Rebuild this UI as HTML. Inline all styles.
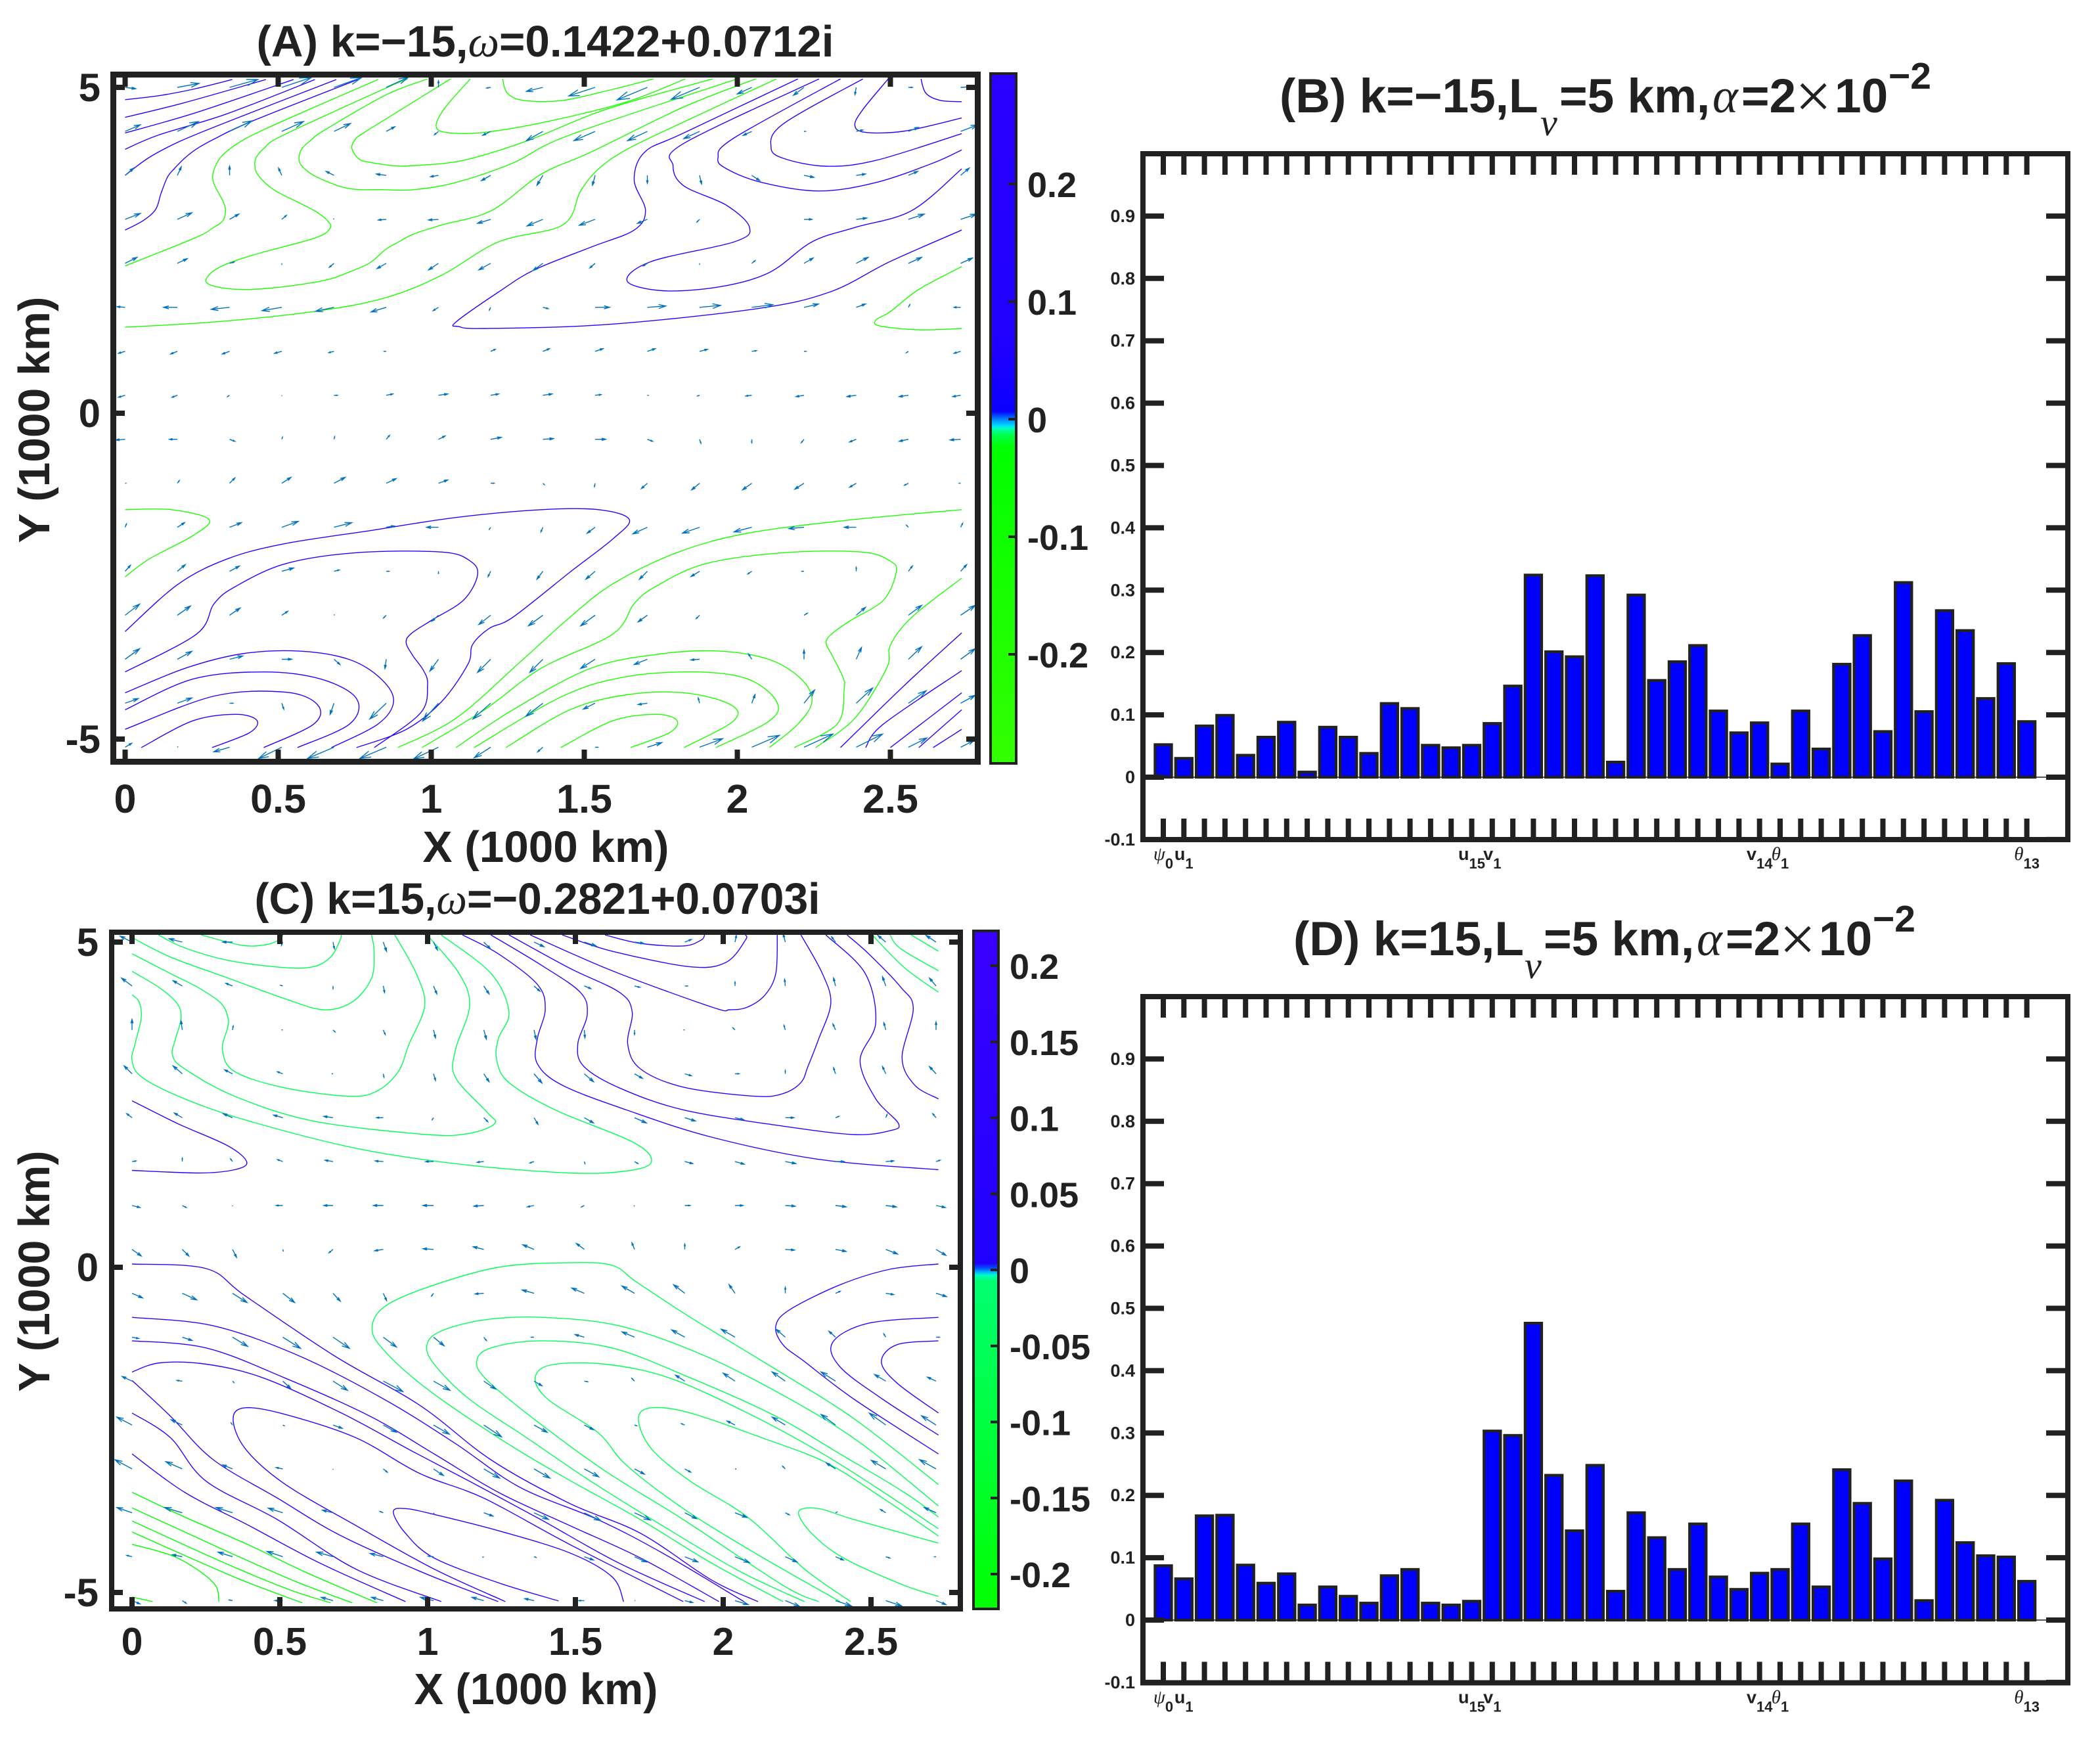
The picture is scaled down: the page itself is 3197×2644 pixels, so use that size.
<!DOCTYPE html>
<html lang="en">
<head>
<meta charset="utf-8">
<title>Contour and spectrum panels</title>
<style>
html,body{margin:0;padding:0;background:#fff}
svg{display:block}
text{font-family:"Liberation Sans",sans-serif;font-weight:700;fill:#212121}
.greek{font-family:"Liberation Serif",serif;font-style:italic;font-weight:400}
.serif{font-family:"Liberation Serif",serif;font-weight:400}
</style>
</head>
<body>
<svg id="fig" xmlns="http://www.w3.org/2000/svg" width="3197" height="2644" viewBox="0 0 3197 2644">
<defs>
<clipPath id="clipA"><rect x="177" y="118" width="1307" height="1037"/></clipPath>
<clipPath id="clipC"><rect x="174" y="1423" width="1284" height="1022"/></clipPath>
<linearGradient id="cbarA" gradientUnits="userSpaceOnUse" x1="0" y1="112" x2="0" y2="1162">
<stop offset="0" stop-color="#2a00ff"/><stop offset="0.4" stop-color="#1f00ff"/><stop offset="0.49" stop-color="#0a00ff"/><stop offset="0.4965" stop-color="#0050ff"/><stop offset="0.504" stop-color="#00a0ff"/><stop offset="0.511" stop-color="#00e0ff"/><stop offset="0.514" stop-color="#00ffc0"/><stop offset="0.523" stop-color="#00ff50"/><stop offset="0.542" stop-color="#00ff00"/><stop offset="1" stop-color="#33ff00"/>
</linearGradient>
<linearGradient id="cbarC" gradientUnits="userSpaceOnUse" x1="0" y1="1417" x2="0" y2="2449">
<stop offset="0" stop-color="#3a00ff"/><stop offset="0.49" stop-color="#1f00ff"/><stop offset="0.4975" stop-color="#0050ff"/><stop offset="0.503" stop-color="#00b0ff"/><stop offset="0.508" stop-color="#00ffc0"/><stop offset="0.516" stop-color="#00ff70"/><stop offset="0.65" stop-color="#00ff50"/><stop offset="1" stop-color="#00ff00"/>
</linearGradient>
</defs>

<rect x="0" y="0" width="3197" height="2644" fill="#fff"/>

<text x="830" y="86" font-size="67" text-anchor="middle" textLength="879" lengthAdjust="spacingAndGlyphs">(A) k=−15,<tspan class="greek">ω</tspan>=0.1422+0.0712i</text>
<text x="818" y="1391" font-size="67" text-anchor="middle" textLength="861" lengthAdjust="spacingAndGlyphs">(C) k=15,<tspan class="greek">ω</tspan>=−0.2821+0.0703i</text>

<g>
<text y="171" font-size="73"><tspan x="1948">(B) k=−15,L</tspan><tspan class="greek" x="2345" y="206" font-size="58">ν</tspan><tspan x="2374" y="171">=5 km,</tspan><tspan class="greek" x="2607" y="171" font-size="74">α</tspan><tspan x="2651" y="171">=2</tspan><tspan class="serif" x="2733" y="179" font-size="98">×</tspan><tspan x="2793" y="171">10</tspan><tspan x="2875" y="135" font-size="57">−2</tspan></text>
</g>
<g>
<text y="1454" font-size="73"><tspan x="1969">(D) k=15,L</tspan><tspan class="greek" x="2321" y="1489" font-size="58">ν</tspan><tspan x="2350" y="1454">=5 km,</tspan><tspan class="greek" x="2583" y="1454" font-size="74">α</tspan><tspan x="2627" y="1454">=2</tspan><tspan class="serif" x="2709" y="1462" font-size="98">×</tspan><tspan x="2769" y="1454">10</tspan><tspan x="2851" y="1418" font-size="57">−2</tspan></text>
</g>

<text x="831" y="1312" font-size="67" text-anchor="middle" textLength="375" lengthAdjust="spacingAndGlyphs">X (1000 km)</text>
<text x="816" y="2594" font-size="67" text-anchor="middle" textLength="371" lengthAdjust="spacingAndGlyphs">X (1000 km)</text>
<text transform="translate(75 639) rotate(-90)" font-size="67" text-anchor="middle" textLength="375" lengthAdjust="spacingAndGlyphs">Y (1000 km)</text>
<text transform="translate(75 1935) rotate(-90)" font-size="67" text-anchor="middle" textLength="367" lengthAdjust="spacingAndGlyphs">Y (1000 km)</text>

<g id="fieldA" clip-path="url(#clipA)"></g>
<g id="fieldC" clip-path="url(#clipC)"></g>
<g id="barsBg"></g>
<g id="barsDg"></g>

<rect x="172.5" y="113.5" width="1316" height="1046" fill="none" stroke="#212121" stroke-width="9"/>
<rect x="170" y="1419" width="1292" height="1030" fill="none" stroke="#212121" stroke-width="8"/>
<rect x="1740" y="234" width="1408" height="1044" fill="none" stroke="#212121" stroke-width="8"/>
<rect x="1740" y="1517" width="1408" height="1044.5" fill="none" stroke="#212121" stroke-width="8"/>

<rect x="1508" y="112" width="39" height="1050" fill="url(#cbarA)" stroke="#212121" stroke-width="4"/>
<rect x="1482" y="1417" width="38" height="1032" fill="url(#cbarC)" stroke="#212121" stroke-width="4"/>

<g id="overlay"></g>
</svg>

<script>
/* ---------- Panel A: contour lines as [x,y,x,y,...] in data units ---------- */
const contourABlue = [
[0,4.81,.12,4.88,.23,4.98,.35,5.12],
[0,4.54,.19,4.76,.46,5.12],
[0,4.30,.23,4.61,.55,5.12],
[0,4.05,.11,4.27,.33,4.59,.62,5.12],
[0,3.65,.077,3.92,.178,4.17,.328,4.46,.69,5.12],
[0,2.81,.06,2.96,.10,3.13,.117,3.37,.138,3.62,.16,3.75,.196,3.92,.235,4.06,.292,4.21,.414,4.48,.76,5.12],
[2.198,5.13,1.825,4.30,1.698,4.01,1.663,3.58,1.70,3.11,1.663,2.81,1.523,2.55,1.337,2.20,1.22,1.86,1.081,1.40,1.09,1.33,1.174,1.30,1.57,1.36,2.058,1.60,2.302,1.86,2.5,2.33,2.733,2.81],
[2.267,5.13,1.825,4.14,1.79,3.80,1.825,3.49,1.965,3.19,2.04,2.85,1.99,2.63,1.72,2.33,1.64,2.03,1.756,1.88,1.942,1.94,2.105,2.16,2.244,2.63,2.384,2.85,2.57,3.11,2.733,3.75],
[2.337,5.13,1.988,4.22,1.937,3.92,1.965,3.75,2.081,3.54,2.267,3.41,2.453,3.54,2.64,3.84,2.733,4.04],
[2.41,5.13,2.15,4.44,2.11,4.08,2.151,3.91,2.29,3.79,2.453,3.88,2.733,4.29],
[2.493,5.13,2.41,4.66,2.384,4.42,2.418,4.31,2.547,4.33,2.733,4.53],
[2.6,5.13,2.616,4.91,2.663,4.80,2.733,4.78],
[0,-3.35,.174,-2.62,.337,-2.23,.523,-2.0,.802,-1.8,1.081,-1.6,1.36,-1.48,1.547,-1.48,1.647,-1.63,1.593,-1.93,1.453,-2.44,1.267,-3.13,1.19,-3.3,1.135,-3.55,1.12,-3.85,1.035,-4.42,.919,-4.85,.756,-5.13],
[0,-3.97,.233,-3.39,.291,-2.92,.36,-2.66,.523,-2.31,.756,-2.14,1.035,-2.13,1.128,-2.27,1.151,-2.49,1.105,-2.87,1.0,-3.18,.935,-3.38,.918,-3.52,.94,-3.72,.975,-3.95,.988,-4.17,.965,-4.6,.814,-5.13],
[0,-4.29,.198,-3.91,.384,-3.69,.57,-3.65,.733,-3.78,.837,-4.08,.877,-4.42,.826,-4.77,.674,-5.13],
[0,-4.55,.221,-4.08,.453,-3.97,.64,-4.08,.756,-4.38,.733,-4.77,.563,-5.13],
[0,-4.85,.291,-4.34,.523,-4.28,.628,-4.47,.616,-4.77,.453,-5.13],
[.053,-5.13,.221,-4.72,.36,-4.62,.43,-4.71,.407,-4.9,.284,-5.13],
[2.733,-3.37,2.547,-4.17,2.337,-5.13],
[2.733,-3.95,2.477,-4.77,2.419,-5.13],
[2.733,-4.29,2.5,-5.13],
[2.733,-4.55,2.593,-5.13],
[2.733,-4.85,2.64,-5.13]
];
const contourAGreen = [
[0,2.26,.228,2.69,.289,2.85,.32,2.96,.328,3.11,.32,3.25,.292,3.50,.286,3.65,.296,3.80,.314,3.94,.346,4.07,.392,4.21,.457,4.36,.586,4.63,.826,5.12],
[.923,5.13,.857,5.0,.518,4.27,.453,4.06,.428,3.92,.424,3.79,.435,3.65,.485,3.43,.568,3.23,.621,3.10,.66,2.96,.67,2.84,.621,2.69,.442,2.46,.342,2.31,.285,2.17,.264,2.02,.299,1.94,.371,1.90,.478,1.92,.643,2.03,.729,2.16,.80,2.31,.85,2.51,.886,2.61,.943,2.75,1.035,2.89,1.197,3.11,1.36,3.67,1.523,4.01,1.825,4.70,2.06,5.13],
[.988,5.13,.85,4.88,.65,4.34,.607,4.19,.578,4.06,.568,3.92,.578,3.79,.628,3.62,.729,3.45,.843,3.43,.943,3.43,1.08,3.54,1.267,3.84,1.453,4.27,2.0,5.13],
[1.063,5.13,.943,4.78,.782,4.31,.75,4.19,.741,4.06,.764,3.90,.80,3.85,.872,3.80,.943,3.80,1.105,3.88,1.314,4.18,1.57,4.66,1.919,5.13],
[1.128,5.13,1.047,4.70,1.016,4.42,1.047,4.31,1.174,4.31,1.384,4.48,1.64,4.78,1.83,5.13],
[1.233,5.13,1.249,4.91,1.302,4.80,1.43,4.80,1.593,4.97,1.726,5.13],
[0,1.32,.29,1.40,.616,1.56,.849,1.77,1.035,2.12,1.22,2.63,1.43,2.89,1.488,3.41,1.547,3.75,1.64,4.05,1.825,4.47,2.128,5.13],
[2.733,2.25,2.593,1.90,2.5,1.56,2.453,1.43,2.465,1.34,2.593,1.28,2.733,1.30],
[0,-1.48,.151,-1.48,.274,-1.63,.221,-1.88,.081,-2.23,0,-2.51],
[2.733,-1.48,2.384,-1.63,2.035,-1.84,1.802,-2.14,1.593,-2.62,1.453,-3.13,1.29,-3.82,1.081,-4.68,.891,-5.13],
[.97,-5.13,1.174,-4.55,1.36,-3.91,1.593,-3.39,1.663,-2.92,1.733,-2.66,1.895,-2.31,2.151,-2.14,2.407,-2.13,2.5,-2.27,2.519,-2.44,2.477,-2.87,2.37,-3.18,2.31,-3.38,2.29,-3.52,2.31,-3.72,2.345,-4.05,2.349,-4.25,2.326,-4.77,2.186,-5.13],
[1.081,-5.13,1.267,-4.55,1.523,-3.91,1.756,-3.69,1.942,-3.65,2.105,-3.78,2.209,-4.08,2.244,-4.42,2.198,-4.77,2.105,-5.13],
[1.14,-5.13,1.43,-4.34,1.64,-4.04,1.872,-3.97,2.035,-4.08,2.128,-4.42,2.105,-4.72,1.93,-5.13],
[1.244,-5.13,1.453,-4.55,1.64,-4.32,1.826,-4.29,1.977,-4.47,1.988,-4.72,1.826,-5.13],
[1.423,-5.13,1.593,-4.72,1.733,-4.62,1.802,-4.71,1.779,-4.9,1.651,-5.13],
[2.733,-2.53,2.57,-3.13,2.5,-3.56,2.488,-3.91,2.384,-4.68,2.256,-5.13]
];

/* ---------- Panel C: contour lines ---------- */
const contourCBlue = [
[0,2.56,.154,2.21,.323,1.87,.388,1.62,.347,1.50,.227,1.45,0,1.49],
[1.118,5.11,1.239,4.82,1.371,4.35,1.398,3.97,1.371,3.51,1.371,3.13,1.455,2.80,1.672,2.42,1.961,2.0,2.323,1.66,2.728,1.50],
[1.214,5.11,1.383,4.65,1.516,4.23,1.54,3.89,1.508,3.43,1.528,3.09,1.648,2.76,1.865,2.42,2.202,2.17,2.443,2.04,2.564,2.10,2.593,2.21,2.516,2.59,2.463,3.18,2.516,3.76,2.48,4.52,2.347,5.11],
[1.275,5.11,1.48,4.60,1.648,4.23,1.692,3.93,1.677,3.43,1.72,3.05,1.865,2.77,2.106,2.63,2.202,2.67,2.263,2.84,2.287,3.09,2.323,3.51,2.364,4.06,2.335,4.52,2.263,5.11],
[1.347,5.11,1.624,4.56,1.962,4.0,2.022,3.96,2.082,4.0,2.142,4.19,2.178,4.52,2.183,5.11],
[1.455,5.11,1.624,4.86,1.889,4.62,2.01,4.69,2.075,5.03,2.075,5.11],
[1.6,5.11,1.72,4.98,1.865,4.94,1.925,5.03,1.937,5.11],
[2.728,2.59,2.648,2.80,2.605,3.22,2.643,3.98,2.6,4.31,2.492,4.82,2.419,5.11],
[0,.05,.251,-.02,.383,-.44,.684,-1.36,.973,-2.12,1.214,-2.96,1.48,-3.63,1.72,-4.09,1.961,-4.81,2.118,-5.14],
[0,-.77,.275,-.90,.564,-1.36,.853,-2.03,1.094,-2.71,1.311,-3.38,1.576,-3.88,1.793,-4.39,2.07,-5.14],
[0,-1.13,.251,-1.24,.516,-1.70,.805,-2.29,1.022,-2.87,1.239,-3.46,1.48,-3.97,1.72,-4.47,1.986,-5.14],
[0,-1.61,.094,-1.47,.251,-1.49,.443,-1.70,.708,-2.24,.949,-2.83,1.142,-3.29,1.383,-3.88,1.648,-4.55,1.937,-5.14],
[1.865,-5.14,1.48,-4.26,1.19,-3.55,.973,-3.17,.757,-2.62,.516,-2.26,.383,-2.16,.342,-2.33,.383,-2.79,.516,-3.33,.757,-3.97,1.022,-4.64,1.263,-5.14],
[0,-1.74,.13,-2.29,.275,-2.96,.492,-3.55,.708,-4.13,.998,-4.72,1.239,-5.14],
[0,-2.24,.13,-2.62,.251,-3.29,.492,-3.88,.757,-4.64,1.046,-5.14],
[0,-2.87,.178,-3.46,.395,-3.97,.636,-4.55,.925,-5.14],
[1.663,-5.14,1.624,-4.76,1.48,-4.39,1.239,-4.05,1.022,-3.80,.925,-3.71,.884,-3.76,.925,-4.09,1.022,-4.47,1.239,-4.85,1.443,-5.13],
[2.728,.05,2.564,-.03,2.395,-.27,2.226,-.65,2.178,-.90,2.202,-1.19,2.275,-1.45,2.443,-2.03,2.728,-2.87],
[2.728,-.77,2.492,-.86,2.371,-1.15,2.395,-1.53,2.54,-2.03,2.728,-2.58],
[2.728,-1.13,2.588,-1.19,2.535,-1.45,2.588,-1.78,2.728,-2.24]
];
const contourCGreen = [
[.234,5.11,.373,4.95,.453,4.96,.496,5.03,.511,5.11],
[.089,5.11,.173,4.92,.323,4.72,.508,4.61,.612,4.62,.672,4.77,.704,5.03,.708,5.11],
[0,5.07,.13,4.77,.323,4.45,.516,4.13,.648,3.96,.745,4.08,.81,4.44,.819,4.86,.81,5.11],
[0,4.82,.137,4.50,.224,4.30,.301,4.06,.325,3.83,.323,3.68,.306,3.34,.347,3.01,.516,2.76,.733,2.63,.829,2.71,.901,3.01,.937,3.43,.99,4.02,.961,4.52,.889,5.11],
[0,4.55,.092,4.30,.152,4.06,.166,3.83,.147,3.51,.137,3.26,.178,3.05,.347,2.63,.612,2.25,.998,2.04,1.142,2.06,1.227,2.21,1.202,2.38,1.094,2.92,1.094,3.34,1.142,4.02,1.106,4.52,.998,5.11],
[0,4.19,.024,4.08,.031,3.83,.01,3.43,0,3.18,.034,2.92,.178,2.59,.395,2.25,.757,1.83,1.118,1.58,1.48,1.45,1.672,1.48,1.757,1.62,1.696,1.92,1.431,2.42,1.275,2.84,1.234,3.18,1.239,3.51,1.275,3.93,1.214,4.52,1.046,5.11],
[2.728,4.23,2.612,4.61,2.504,5.11],
[2.728,4.56,2.6,4.90,2.564,5.11],
[2.728,4.86,2.636,5.11],
[2.728,-3.34,2.443,-2.33,2.178,-1.57,1.889,-.77,1.708,-.23,1.624,.03,1.48,.07,1.239,0,.998,-.31,.853,-.61,.812,-.94,.853,-1.28,.998,-1.87,1.239,-2.62,1.455,-3.21,1.72,-3.88,1.961,-4.55,2.202,-5.14],
[2.728,-3.67,2.467,-2.71,2.227,-2.03,1.937,-1.36,1.648,-.90,1.383,-.77,1.19,-.81,1.046,-.98,.998,-1.19,1.022,-1.49,1.142,-2.03,1.335,-2.62,1.552,-3.29,1.793,-3.97,2.058,-4.68,2.275,-5.14],
[2.728,-3.84,2.612,-3.46,2.395,-2.87,2.178,-2.29,1.889,-1.70,1.624,-1.24,1.383,-1.13,1.214,-1.24,1.166,-1.45,1.202,-1.74,1.359,-2.33,1.6,-3.13,1.865,-3.88,2.202,-4.89,2.323,-5.14],
[2.728,-4.02,2.516,-3.38,2.323,-2.83,2.082,-2.24,1.817,-1.70,1.6,-1.49,1.419,-1.50,1.364,-1.70,1.407,-2.03,1.576,-2.54,1.672,-3.04,1.865,-3.71,2.106,-4.39,2.395,-5.14],
[2.728,-4.13,2.54,-3.55,2.347,-3.0,2.13,-2.62,1.889,-2.24,1.757,-2.16,1.713,-2.33,1.757,-2.79,1.889,-3.29,2.082,-3.84,2.275,-4.64,2.431,-5.14],
[2.728,-4.24,2.443,-3.88,2.323,-3.71,2.255,-3.76,2.299,-4.09,2.407,-4.47,2.612,-4.89,2.728,-5.06]
];
const contourCDeepGreen = [
[0,-3.46,.178,-3.84,.395,-4.27,.588,-4.69,.829,-5.16],
[0,-3.70,.178,-4.07,.371,-4.47,.564,-4.85,.745,-5.16],
[0,-3.90,.202,-4.32,.371,-4.66,.54,-4.97,.672,-5.16],
[0,-4.07,.178,-4.43,.371,-4.81,.576,-5.16],
[0,-4.26,.154,-4.47,.275,-4.85,.294,-5.14],
[0,-5.07,.07,-5.14]
];

/* ---------- Velocity vectors, one row per Y level ---------- */
const quiverAU = [
[16,33,43,45,42,33,0,-6,-25,-40,-46,-43,-22,-16,-2,6,16],
[23,32,34,33,25,13,-6,-12,-25,-32,-30,-24,-13,2,10,15,26],
[13,6,0,-5,-12,-15,-12,-14,-9,-4,0,3,12,15,14,14,13],
[23,22,14,7,-1,-12,-15,-20,-24,-24,-15,-4,0,12,16,24,24],
[18,15,7,0,-7,-14,-15,-18,-15,-8,-6,0,5,14,18,20,18],
[-12,-21,-28,-30,-28,-23,-8,-2,8,22,28,32,32,22,14,2,-10],
[-10,-10,-11,-11,-8,-3,0,7,10,12,12,12,7,3,0,-3,-10],
[-10,-8,-3,0,5,10,14,12,14,9,2,-3,-9,-12,-14,-14,-12],
[-14,-12,8,1,1,5,10,16,16,16,8,2,0,-4,-10,-14,-16],
[1,3,8,14,17,15,14,5,2,-1,-9,-12,-14,-14,-10,-6,-2],
[2,11,18,25,27,12,-18,-2,-3,-12,-22,-26,-27,-23,-18,-3,3],
[8,12,15,18,8,4,0,-4,-9,-14,-12,-13,-6,-3,0,6,9],
[22,20,16,9,1,-4,-10,-18,-22,-22,-14,-5,0,5,14,20,22],
[22,22,20,15,9,-2,-13,-20,-20,-22,-20,-13,-5,0,8,20,22],
[20,22,5,3,-6,-25,-24,-27,-26,-18,-14,-2,5,16,25,27,22],
[10,1,-24,-35,-40,-40,-38,-25,-8,4,22,35,42,44,40,28,20]
];
const quiverAV = [
[-2,6,12,15,15,15,10,-1,-6,-13,-19,-18,-10,-12,-11,0,1],
[10,15,16,15,12,7,-5,-6,-14,-14,-14,-11,-6,0,2,6,10],
[11,13,14,11,6,2,-2,-8,-15,-15,-12,-13,-8,-3,2,6,11],
[9,10,8,6,1,-1,-1,-6,-10,-9,-6,-4,0,0,2,8,8],
[9,7,2,-1,-6,-8,-10,-10,-11,-7,-4,-1,4,8,9,9,8],
[1,0,-3,-5,-6,-7,-5,-4,-2,0,2,3,4,5,5,4,0],
[-3,-4,-4,-3,-2,0,0,3,4,4,4,3,1,0,0,-2,-3],
[-3,-3,-2,-1,0,2,2,2,2,1,0,-1,-1,-2,-2,-2,-2],
[-1,0,-3,3,4,6,5,3,1,0,-3,-6,-5,-5,-4,-3,-1],
[0,4,8,9,9,7,5,0,-2,-5,-8,-10,-10,-9,-6,-3,0],
[5,7,7,9,7,2,0,-3,-7,-9,-10,-9,-7,-2,0,3,6],
[9,10,8,5,2,0,-4,-8,-12,-12,-12,-8,-4,0,6,8,10],
[17,14,11,6,1,-4,-9,-14,-16,-16,-10,-5,0,3,12,15,15],
[16,12,5,0,-8,-14,-18,-20,-20,-14,-8,-1,8,14,18,19,16],
[7,8,0,-9,-17,-24,-27,-24,-20,-9,-2,8,13,20,23,19,12],
[6,1,-7,-17,-17,-17,-18,-16,-7,0,7,13,18,20,20,14,10]
];
const quiverCU = [
[-18,-20,-15,-2,2,5,6,10,15,18,14,10,2,-3,-6,-12,-15],
[-16,-14,-10,-3,0,2,5,8,9,10,8,4,0,-1,-3,-5,-10],
[0,-2,1,-1,3,3,3,4,3,1,0,-1,-3,-2,-4,-3,0],
[-12,-14,-12,-8,-2,1,3,8,12,14,12,10,6,0,-3,-5,-10],
[-8,-12,-14,-14,-14,-10,-2,6,6,14,18,16,13,13,5,2,-5],
[6,0,-3,-8,-12,-12,-12,-10,-6,1,5,12,14,16,13,12,6],
[12,6,0,-10,-14,-15,-16,-15,-10,-4,-1,8,12,15,16,16,14],
[14,10,6,1,-6,-13,-16,-16,-17,-12,-4,0,7,14,16,18,15],
[16,22,22,18,11,5,-3,-13,-18,-19,-19,-17,-9,0,7,12,16],
[10,15,23,27,25,20,16,4,-4,-14,-19,-20,-21,-14,-10,-3,5],
[-15,-8,2,12,22,30,25,18,12,5,-4,-14,-18,-20,-22,-17,-13],
[-23,-17,-2,2,14,20,24,27,20,14,3,-5,-12,-20,-22,-25,-22],
[-26,-25,-15,-10,0,6,15,24,24,22,15,9,2,-4,-14,-22,-25],
[-23,-27,-25,-22,-16,-5,1,14,22,25,24,18,18,6,2,-8,-18],
[-8,-15,-22,-24,-25,-20,-8,-2,3,14,18,20,22,18,12,6,-2],
[12,6,-5,-12,-18,-18,-20,-18,-14,-8,1,12,20,22,24,24,15]
];
const quiverCV = [
[9,5,0,-5,-10,-14,-12,-10,-7,-6,-2,4,10,12,8,10,10],
[12,8,4,1,-4,-10,-12,-12,-8,-4,-2,0,6,10,12,14,12],
[16,14,6,0,-3,-7,-12,-14,-14,-12,-7,0,3,7,9,11,12],
[12,12,6,3,0,-5,-10,-12,-14,-12,-7,-3,0,5,9,11,11],
[6,7,6,4,2,0,-3,-6,-10,-8,-8,-5,-3,0,2,5,6],
[1,5,4,3,2,1,0,-1,-2,-3,-3,-3,-4,-3,0,1,2],
[-3,-3,-1,0,0,0,0,-1,-2,-2,-1,0,0,-1,-2,-2,-3],
[-10,-10,-12,-3,-5,-2,1,4,7,9,10,8,4,-1,-3,-7,-9],
[-7,-10,-14,-14,-12,-11,-4,-1,5,8,11,13,13,9,3,-2,-5],
[-2,-5,-14,-17,-17,-15,-13,-5,0,4,8,11,12,12,9,5,0],
[7,1,-2,-11,-14,-16,-14,-12,-7,-1,4,9,12,14,14,10,6],
[12,8,3,-1,-5,-11,-14,-18,-11,-7,-1,2,6,12,16,18,14],
[14,11,6,2,-1,-5,-10,-14,-14,-12,-8,-5,0,4,9,13,14],
[8,8,8,7,4,2,-2,-5,-10,-12,-11,-9,-7,-3,1,5,8],
[2,3,7,8,7,5,1,-1,-1,-5,-8,-8,-9,-8,-5,-2,0],
[-5,-4,1,0,5,5,5,5,3,0,0,-3,-6,-9,-8,-8,-6]
];
const quiverGridStepXA = 0.1706;
const quiverGridStepXC = 0.17;
const quiverGridStepY = 0.675;

/* ---------- Panels B and D: bar values ---------- */
const barsB = [.053,.031,.083,.100,.036,.065,.089,.009,.081,.065,.039,.119,.111,.052,.048,.052,.087,.147,.325,.202,.194,.324,.025,.293,.156,.186,.212,.107,.072,.088,.022,.107,.046,.182,.228,.074,.313,.106,.268,.236,.127,.183,.090];
const barsD = [.088,.067,.168,.169,.089,.060,.075,.025,.054,.039,.028,.072,.082,.028,.025,.031,.304,.297,.477,.233,.144,.249,.047,.173,.133,.082,.155,.070,.050,.076,.082,.155,.054,.242,.188,.099,.224,.032,.193,.125,.104,.102,.063];
const barYTicks = [-0.1,0,0.1,0.2,0.3,0.4,0.5,0.6,0.7,0.8,0.9];
const barYTickLabels = ['-0.1','0','0.1','0.2','0.3','0.4','0.5','0.6','0.7','0.8','0.9'];
const barXLabelIndex = [1,2,16,17,30,31,43];
const barXLabelMain = ['ψ','u','u','v','v','θ','θ'];
const barXLabelSub = ['0','1','15','1','14','1','13'];

/* ---------- Axis ticks ---------- */
const fieldXTicks = [0,0.5,1,1.5,2,2.5];
const fieldXTickLabels = ['0','0.5','1','1.5','2','2.5'];
const fieldYTicks = [5,0,-5];
const fieldYTickLabels = ['5','0','-5'];
const colorbarATicks = [0.2,0.1,0,-0.1,-0.2];
const colorbarATickLabels = ['0.2','0.1','0','-0.1','-0.2'];
const colorbarCTicks = [0.2,0.15,0.1,0.05,0,-0.05,-0.1,-0.15,-0.2];
const colorbarCTickLabels = ['0.2','0.15','0.1','0.05','0','-0.05','-0.1','-0.15','-0.2'];

/* ---------- Axis functions ---------- */
const NS = 'http://www.w3.org/2000/svg';
const axA = {x: v => 190.5 + 466 * v, y: v => 629 - 99.2 * v};
const axC = {x: v => 201 + 450 * v, y: v => 1929 - 99 * v};
const axB = {x: i => 1771 + 31.3 * (i - 1), y: v => 1183 - 949 * v};
const axD = {x: i => 1771 + 31.3 * (i - 1), y: v => 2466 - 949 * v};
const cbA = v => 638 - 1790 * v;
const cbC = v => 1933 - 2315 * v;
const quiverScale = 1;

function add(parent, tag) {
  const node = document.createElementNS(NS, tag);
  parent.appendChild(node);
  return node;
}
function smoothPath(flat, ax) {
  const p = [];
  for (let i = 0; i < flat.length; i += 2) p.push([ax.x(flat[i]), ax.y(flat[i + 1])]);
  let d = 'M' + p[0][0].toFixed(1) + ' ' + p[0][1].toFixed(1);
  for (let i = 0; i < p.length - 1; i++) {
    const a = p[Math.max(0, i - 1)], b = p[i], c = p[i + 1], e = p[Math.min(p.length - 1, i + 2)];
    const c1x = b[0] + (c[0] - a[0]) / 6, c1y = b[1] + (c[1] - a[1]) / 6;
    const c2x = c[0] - (e[0] - b[0]) / 6, c2y = c[1] - (e[1] - b[1]) / 6;
    d += 'C' + c1x.toFixed(1) + ' ' + c1y.toFixed(1) + ' ' + c2x.toFixed(1) + ' ' + c2y.toFixed(1) + ' ' + c[0].toFixed(1) + ' ' + c[1].toFixed(1);
  }
  return d;
}
function drawContours(group, curves, ax, color) {
  curves.forEach(flat => {
    const el = add(group, 'path');
    el.setAttribute('d', smoothPath(flat, ax));
    el.setAttribute('fill', 'none');
    el.setAttribute('stroke', color);
    el.setAttribute('stroke-width', '1.4');
    
    
  });
}
function drawQuiver(group, us, vs, ax, stepX) {
  us.forEach((row, j) => {
    row.forEach((u, i) => {
      const v = vs[j][i];
      const x0 = ax.x(i * stepX), y0 = ax.y(5 - j * quiverGridStepY);
      const dx = u * quiverScale, dy = -v * quiverScale;
      const x1 = x0 + dx, y1 = y0 + dy;
      const bx = x1 - 0.38 * dx, by = y1 - 0.38 * dy;
      const px = -dy * 0.11, py = dx * 0.11;
      const el = add(group, 'path');
      el.setAttribute('d', 'M' + x0.toFixed(1) + ' ' + y0.toFixed(1) + 'L' + x1.toFixed(1) + ' ' + y1.toFixed(1) +
        'M' + (bx + px).toFixed(1) + ' ' + (by + py).toFixed(1) + 'L' + x1.toFixed(1) + ' ' + y1.toFixed(1) + 'L' + (bx - px).toFixed(1) + ' ' + (by - py).toFixed(1));
      el.setAttribute('fill', 'none');
      el.setAttribute('stroke', '#0072bd');
      el.setAttribute('stroke-width', '1.4');
      
      
    });
  });
}
function drawBars(group, values, ax) {
  const w = 0.8 * 31.3;
  const inset = 0.8;
  const base = add(group, 'line');
  base.setAttribute('x1', 1744);
  base.setAttribute('x2', 3144);
  base.setAttribute('y1', ax.y(0));
  base.setAttribute('y2', ax.y(0));
  base.setAttribute('stroke', '#212121');
  base.setAttribute('stroke-width', '1.5');
  
  
  values.forEach((val, k) => {
    const el = add(group, 'rect');
    el.setAttribute('x', (ax.x(k + 1) - w / 2).toFixed(2));
    el.setAttribute('y', (ax.y(val) + inset).toFixed(2));
    el.setAttribute('width', w.toFixed(2));
    el.setAttribute('height', Math.max(0.5, ax.y(0) - ax.y(val) - inset).toFixed(2));
    el.setAttribute('fill', '#0000ff');
    el.setAttribute('stroke', '#212121');
    el.setAttribute('stroke-width', '4.3');
    
    
  });
}
function tickLine(parent, x1, y1, x2, y2, width) {
  const el = add(parent, 'line');
  el.setAttribute('x1', x1);
  el.setAttribute('y1', y1);
  el.setAttribute('x2', x2);
  el.setAttribute('y2', y2);
  el.setAttribute('stroke', '#212121');
  el.setAttribute('stroke-width', width);
  
  
  return el;
}
function tickText(parent, x, y, size, anchor, str) {
  const el = add(parent, 'text');
  el.setAttribute('x', x);
  el.setAttribute('y', y);
  el.setAttribute('font-size', size);
  el.setAttribute('text-anchor', anchor);
  el.textContent = str;
  
  
  return el;
}
function fieldAxes(parent, ax, box, tickSize, labelY, yLabelX, fontX) {
  fieldXTicks.forEach((t, i) => {
    const x = ax.x(t);
    tickLine(parent, x, box.top, x, box.top + 14, 8);
    tickLine(parent, x, box.bottom, x, box.bottom - 14, 8);
    tickText(parent, x, labelY, fontX, 'middle', fieldXTickLabels[i]);
  });
  fieldYTicks.forEach((t, i) => {
    const y = ax.y(t);
    tickLine(parent, box.left, y, box.left + 13, y, 8);
    tickLine(parent, box.right, y, box.right - 13, y, 8);
    tickText(parent, yLabelX, y + 21, tickSize, 'end', fieldYTickLabels[i]);
  });
}
function barAxes(parent, ax, frame) {
  for (let i = 1; i <= barsB.length; i++) {
    const x = ax.x(i);
    tickLine(parent, x, frame.top, x, frame.top + 28, 8);
    tickLine(parent, x, frame.bottom, x, frame.bottom - 28, 8);
  }
  barYTicks.forEach((t, i) => {
    const y = ax.y(t);
    tickLine(parent, 1744, y, 1772, y, 8);
    tickLine(parent, 3144, y, 3115, y, 8);
    tickText(parent, 1728, y + 9, 27, 'end', barYTickLabels[i]);
  });
  barXLabelIndex.forEach((idx, i) => {
    const el = add(parent, 'text');
    el.setAttribute('x', ax.x(idx));
    el.setAttribute('y', frame.bottom + 35);
    el.setAttribute('font-size', 27);
    el.setAttribute('text-anchor', 'middle');
    
    
    const main = add(el, 'tspan');
    main.textContent = barXLabelMain[i];
    if (barXLabelMain[i] === 'ψ' || barXLabelMain[i] === 'θ') {
      main.setAttribute('class', 'greek');
      main.setAttribute('font-size', 29);
    }
    const sub = add(el, 'tspan');
    sub.setAttribute('dy', 13);
    sub.setAttribute('font-size', 22);
    sub.textContent = barXLabelSub[i];
  });
}
function colorbarAxis(parent, ticks, labels, scale, right, labelX) {
  ticks.forEach((t, i) => {
    const y = scale(t);
    tickLine(parent, right - 10, y, right, y, 4);
    tickText(parent, labelX, y + 20, 54, 'start', labels[i]);
  });
}

const fieldA = document.getElementById('fieldA');
const fieldC = document.getElementById('fieldC');
drawContours(fieldA, contourABlue, axA, '#2a00ff');
drawContours(fieldA, contourAGreen, axA, '#1cff00');
drawQuiver(fieldA, quiverAU, quiverAV, axA, quiverGridStepXA);
drawContours(fieldC, contourCBlue, axC, '#3300ff');
drawContours(fieldC, contourCGreen, axC, '#00ff55');
drawContours(fieldC, contourCDeepGreen, axC, '#00ff00');
drawQuiver(fieldC, quiverCU, quiverCV, axC, quiverGridStepXC);
drawBars(document.getElementById('barsBg'), barsB, axB);
drawBars(document.getElementById('barsDg'), barsD, axD);

const overlay = document.getElementById('overlay');
fieldAxes(overlay, axA, {top: 118, bottom: 1155, left: 177, right: 1484}, 60, 1237, 153, 61);
fieldAxes(overlay, axC, {top: 1423, bottom: 2445, left: 174, right: 1458}, 60, 2519, 150, 59);
barAxes(overlay, axB, {top: 238, bottom: 1274});
barAxes(overlay, axD, {top: 1521, bottom: 2557.5});
colorbarAxis(overlay, colorbarATicks, colorbarATickLabels, cbA, 1545, 1564);
colorbarAxis(overlay, colorbarCTicks, colorbarCTickLabels, cbC, 1518, 1537);
</script>
</body>
</html>
